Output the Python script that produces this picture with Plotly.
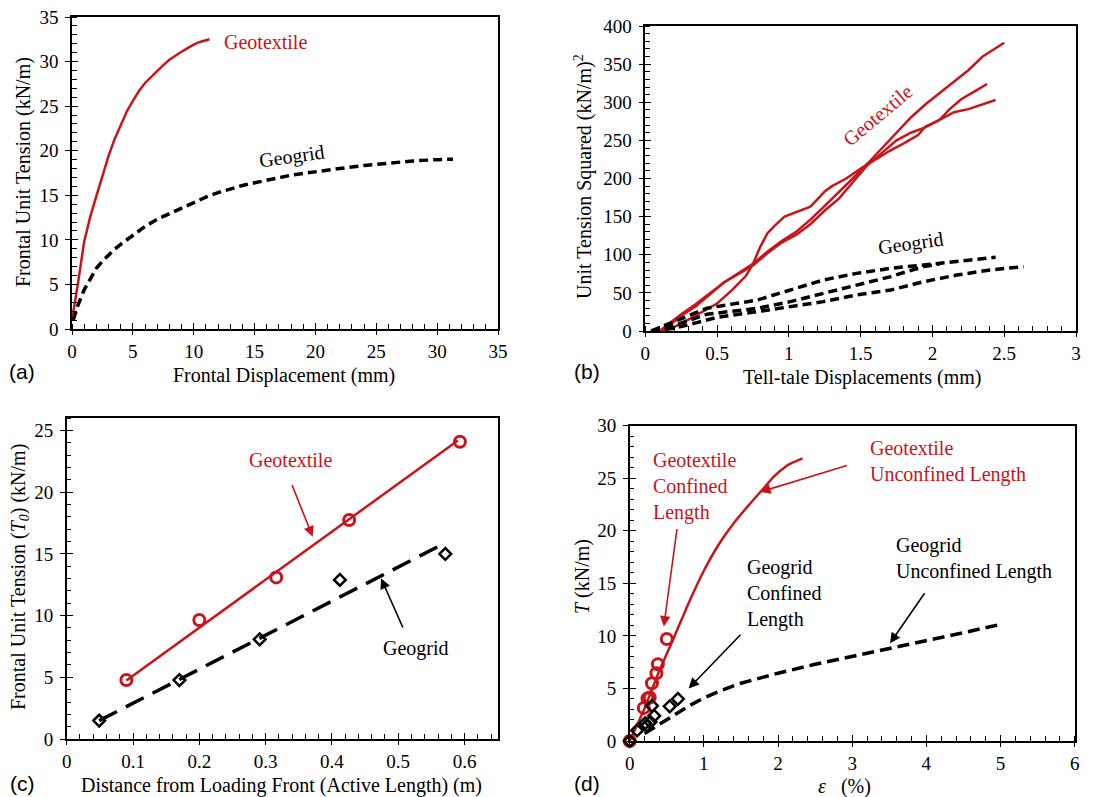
import plotly.graph_objects as go

# ---------------- data ----------------
# (a) frontal unit tension vs frontal displacement
a_gt_x = [0, 0.25, 0.5, 1.0, 1.5, 2.0, 2.5, 3.0, 3.5, 4.0, 4.5, 5.0, 5.5, 6.0, 6.5, 7.0, 7.5, 8.0, 8.5, 9.0, 9.5, 10.0, 10.5, 11.0, 11.3]
a_gt_y = [1.0, 3.0, 5.2, 9.8, 12.6, 14.9, 17.2, 19.4, 21.3, 22.9, 24.4, 25.6, 26.7, 27.6, 28.3, 29.0, 29.6, 30.2, 30.7, 31.1, 31.5, 31.9, 32.2, 32.4, 32.5]
a_gg_x = [0.1, 0.5, 1, 1.5, 2, 2.5, 3, 3.5, 4, 5, 6, 7, 8, 9, 10, 11, 12, 13, 14, 15, 16, 17, 18, 19, 20, 22, 24, 26, 28, 30, 31.3]
a_gg_y = [1.0, 2.7, 4.4, 5.7, 6.8, 7.6, 8.3, 8.95, 9.5, 10.5, 11.5, 12.3, 12.95, 13.6, 14.2, 14.8, 15.3, 15.75, 16.1, 16.4, 16.7, 17.0, 17.25, 17.45, 17.65, 18.0, 18.35, 18.6, 18.85, 19.0, 19.05]

# (b) unit tension squared vs tell-tale displacement (three tests each)
b_gt1_x = [0.1, 0.17, 0.25, 0.35, 0.45, 0.55, 0.65, 0.75, 0.85, 0.95, 1.05, 1.15, 1.25, 1.35, 1.45, 1.55, 1.65, 1.75, 1.85, 1.95, 2.05, 2.15, 2.25, 2.35, 2.45, 2.5]
b_gt1_y = [0, 8, 20, 32, 48, 64, 76, 88, 104, 118, 130, 146, 164, 182, 201, 220, 240, 260, 280, 297, 312, 326, 342, 360, 372, 378]
b_gt2_x = [0.12, 0.2, 0.3, 0.4, 0.5, 0.6, 0.7, 0.75, 0.8, 0.85, 0.9, 0.97, 1.05, 1.15, 1.2, 1.25, 1.3, 1.4, 1.5, 1.6, 1.7, 1.8, 1.9, 1.95, 2.05, 2.12, 2.2, 2.3, 2.38]
b_gt2_y = [0, 5, 15, 25, 36, 53, 72, 88, 110, 128, 138, 150, 156, 163, 173, 183, 190, 200, 213, 225, 236, 246, 257, 268, 277, 291, 304, 315, 324]
b_gt3_x = [0.1, 0.17, 0.25, 0.35, 0.45, 0.55, 0.65, 0.75, 0.85, 0.95, 1.05, 1.15, 1.25, 1.35, 1.45, 1.55, 1.65, 1.75, 1.85, 1.95, 2.05, 2.15, 2.25, 2.35, 2.44]
b_gt3_y = [0, 10, 22, 35, 50, 64, 75, 86, 102, 116, 126, 140, 158, 174, 196, 218, 234, 250, 260, 267, 277, 287, 291, 297, 303]
b_gg1_x = [0.04, 0.2, 0.43, 0.78, 1.01, 1.24, 1.47, 1.71, 1.94, 2.17, 2.44]
b_gg1_y = [0, 12, 30, 40.6, 53.8, 66.9, 75.6, 82.2, 86.6, 91.0, 96.6]
b_gg2_x = [0.04, 0.2, 0.43, 0.78, 1.01, 1.24, 1.47, 1.71, 1.82, 1.94, 2.05]
b_gg2_y = [0, 7, 22, 29.7, 38.5, 49.4, 60.3, 71.3, 77.8, 84.4, 88]
b_gg3_x = [0.04, 0.2, 0.36, 0.5, 0.78, 1.01, 1.24, 1.47, 1.71, 1.94, 2.17, 2.40, 2.635]
b_gg3_y = [0, 3.5, 11, 18, 25.4, 31.9, 38.5, 47.2, 53.8, 64.7, 73.4, 80.0, 84.4]

# (c) frontal unit tension vs active length
c_gt_x = [0.09, 0.2, 0.316, 0.426, 0.593]
c_gt_y = [4.78, 9.65, 13.1, 17.76, 24.1]
c_gt_fit_x = [0.09, 0.59]
c_gt_fit_y = [4.75, 24.2]
c_gg_x = [0.049, 0.17, 0.291, 0.412, 0.571]
c_gg_y = [1.49, 4.78, 8.08, 12.9, 15.0]
c_gg_fit_x = [0.049, 0.571]
c_gg_fit_y = [1.49, 15.9]

# (d) T vs strain
d_gt_unc_x = [0, 0.2, 0.4, 0.6, 0.8, 1.0, 1.2, 1.4, 1.6, 1.8, 1.95, 2.1, 2.2, 2.33]
d_gt_unc_y = [0, 3.1, 6.7, 9.9, 13.2, 16.2, 18.7, 20.7, 22.4, 24.0, 25.2, 26.1, 26.5, 26.9]
d_gt_con_x = [0, 0.19, 0.24, 0.27, 0.3, 0.36, 0.38, 0.5]
d_gt_con_y = [0, 3.15, 4.05, 4.15, 5.5, 6.45, 7.3, 9.7]
d_gg_con_x = [0, 0.1, 0.21, 0.23, 0.28, 0.3, 0.33, 0.54, 0.65]
d_gg_con_y = [0, 1.0, 1.7, 1.45, 1.8, 3.35, 2.4, 3.3, 4.0]
d_gg_unc_x = [0.2, 0.4, 0.6, 0.8, 1.0, 1.25, 1.5, 1.75, 2.0, 2.5, 3.0, 3.5, 4.0, 4.5, 5.0]
d_gg_unc_y = [0.7, 1.6, 2.5, 3.35, 4.1, 4.85, 5.5, 6.0, 6.45, 7.3, 8.05, 8.75, 9.5, 10.3, 11.1]

RED = "#c8141a"
SERIF = "Liberation Serif"
SANS = "Liberation Sans"
W, H = 1117, 797

fig = go.Figure()

def px(v):
    return v / W

def py(v):
    return 1 - v / H

# domains (pixels -> paper)
doms = {
    1: ([72, 498], [17, 329]),
    2: ([645.3, 1076], [26, 331]),
    3: ([66.7, 497.7], [418.3, 739]),
    4: ([629.7, 1074.7], [425.7, 741]),
}
ranges = {
    1: ([0, 35], [0, 35], 5, 1, 5, 1),
    2: ([0, 3], [0, 400], 0.5, 0.1, 50, 10),
    3: ([0, 0.65], [0, 26], 0.1, 0.02, 5, 1),
    4: ([0, 6], [0, 30], 1, 0.2, 5, 1),
}

tickfont = dict(family=SERIF, size=19, color="black")
layout_axes = {}
for i in range(1, 5):
    (x0, x1), (yt, yb) = doms[i]
    xr, yr, xd, xmd, yd, ymd = ranges[i]
    xdom = [px(x0), px(x1)]
    ydom = [py(yb), py(yt)]
    sfx = "" if i == 1 else str(i)
    layout_axes["xaxis" + sfx] = dict(
        domain=xdom, range=xr, anchor="y" + sfx, dtick=xd, tick0=0, automargin=False,
        showgrid=False, zeroline=False, showline=True, linecolor="black", linewidth=1.5,
        mirror=True, ticks="outside", ticklen=4, tickwidth=1.3, tickcolor="black",
        tickfont=tickfont,
        minor=dict(ticks="inside", ticklen=5, tickwidth=1.2, tickcolor="black", dtick=xmd, tick0=0, showgrid=False),
    )
    layout_axes["yaxis" + sfx] = dict(
        domain=ydom, range=yr, anchor="x" + sfx, dtick=yd, tick0=0, automargin=False,
        showgrid=False, zeroline=False, showline=True, linecolor="black", linewidth=1.5,
        mirror=True, ticks="outside", ticklen=5, tickwidth=1.3, tickcolor="black",
        tickfont=tickfont, ticklabelstandoff=3,
        minor=dict(ticks="inside", ticklen=5, tickwidth=1.2, tickcolor="black", dtick=ymd, tick0=0, showgrid=False),
    )
    # overlay axes for the inner half of the major ticks
    j = i + 4
    layout_axes["xaxis%d" % j] = dict(
        overlaying="x" + sfx, anchor="y" + sfx, range=xr, dtick=xd, tick0=0, automargin=False,
        showgrid=False, zeroline=False, showline=False, ticks="inside", ticklen=6,
        tickwidth=1.3, tickcolor="black", showticklabels=False,
    )
    layout_axes["yaxis%d" % j] = dict(
        overlaying="y" + sfx, anchor="x" + sfx, range=yr, dtick=yd, tick0=0, automargin=False,
        showgrid=False, zeroline=False, showline=False, ticks="inside", ticklen=6,
        tickwidth=1.3, tickcolor="black", showticklabels=False,
    )
    fig.add_trace(go.Scatter(x=[None], y=[None], xaxis="x%d" % j, yaxis="y%d" % j,
                             showlegend=False, hoverinfo="skip"))

def ax(i):
    s = "" if i == 1 else str(i)
    return "x" + s, "y" + s

# ---- (a)
xa, ya = ax(1)
fig.add_trace(go.Scatter(x=a_gt_x, y=a_gt_y, mode="lines", line=dict(color=RED, width=2.5),
                         xaxis=xa, yaxis=ya, showlegend=False))
fig.add_trace(go.Scatter(x=a_gg_x, y=a_gg_y, mode="lines", line=dict(color="black", width=3.5, dash="9px,5px"),
                         xaxis=xa, yaxis=ya, showlegend=False))

# ---- (b)
xb, yb = ax(2)
for xs, ys in [(b_gt1_x, b_gt1_y), (b_gt2_x, b_gt2_y), (b_gt3_x, b_gt3_y)]:
    fig.add_trace(go.Scatter(x=xs, y=ys, mode="lines", line=dict(color=RED, width=2.5),
                             xaxis=xb, yaxis=yb, showlegend=False))
for xs, ys in [(b_gg1_x, b_gg1_y), (b_gg2_x, b_gg2_y), (b_gg3_x, b_gg3_y)]:
    fig.add_trace(go.Scatter(x=xs, y=ys, mode="lines", line=dict(color="black", width=3.5, dash="9px,5px"),
                             xaxis=xb, yaxis=yb, showlegend=False))

# ---- (c)
xc, yc = ax(3)
fig.add_trace(go.Scatter(x=c_gt_fit_x, y=c_gt_fit_y, mode="lines", line=dict(color=RED, width=2.5),
                         xaxis=xc, yaxis=yc, showlegend=False))
fig.add_trace(go.Scatter(x=c_gg_fit_x, y=c_gg_fit_y, mode="lines", line=dict(color="black", width=3.5, dash="20px,10px"),
                         xaxis=xc, yaxis=yc, showlegend=False))
fig.add_trace(go.Scatter(x=c_gt_x, y=c_gt_y, mode="markers",
                         marker=dict(symbol="circle-open", size=11, color=RED, line=dict(width=3, color=RED)),
                         xaxis=xc, yaxis=yc, showlegend=False, cliponaxis=False))
fig.add_trace(go.Scatter(x=c_gg_x, y=c_gg_y, mode="markers",
                         marker=dict(symbol="diamond-open", size=9, color="black", line=dict(width=2.5, color="black")),
                         xaxis=xc, yaxis=yc, showlegend=False, cliponaxis=False))

# ---- (d)
xd_, yd_ = ax(4)
fig.add_trace(go.Scatter(x=d_gt_unc_x, y=d_gt_unc_y, mode="lines", line=dict(color=RED, width=2.5, shape="spline", smoothing=0.6),
                         xaxis=xd_, yaxis=yd_, showlegend=False))
fig.add_trace(go.Scatter(x=d_gg_unc_x, y=d_gg_unc_y, mode="lines", line=dict(color="black", width=3.5, dash="12px,6px"),
                         xaxis=xd_, yaxis=yd_, showlegend=False))
fig.add_trace(go.Scatter(x=d_gt_con_x, y=d_gt_con_y, mode="markers",
                         marker=dict(symbol="circle-open", size=11, color=RED, line=dict(width=3, color=RED)),
                         xaxis=xd_, yaxis=yd_, showlegend=False, cliponaxis=False))
fig.add_trace(go.Scatter(x=d_gg_con_x, y=d_gg_con_y, mode="markers",
                         marker=dict(symbol="diamond-open", size=9, color="black", line=dict(width=2.5, color="black")),
                         xaxis=xd_, yaxis=yd_, showlegend=False, cliponaxis=False))

ann = []
tf = dict(family=SERIF, size=20, color="black")
rf = dict(family=SERIF, size=20, color=RED)

def paper_text(text, x, y, font, angle=0):
    ann.append(dict(text=text, x=px(x), y=py(y), xref="paper", yref="paper", showarrow=False,
                    xanchor="center", yanchor="middle", textangle=angle, font=font))

# axis titles
paper_text("Frontal Displacement (mm)", 284, 375, tf)
paper_text("Frontal Unit Tension (kN/m)", 24, 172, tf, angle=-90)
paper_text("Tell-tale Displacements (mm)", 862, 377, tf)
paper_text("Unit Tension Squared (kN/m)<sup>2</sup>", 584, 177, tf, angle=-90)
paper_text("Distance from Loading Front (Active Length) (m)", 281, 785, tf)
paper_text("Frontal Unit Tension (<i>T<sub>0</sub></i>) (kN/m)", 19, 577, tf, angle=-90)
paper_text("<i>ε</i>   (%)", 844, 786, tf)
paper_text("<i>T</i> (kN/m)", 582, 577, tf, angle=-90)

# panel labels
pf = dict(family=SANS, size=21, color="black")
paper_text("(a)", 22, 371, pf)
paper_text("(b)", 587, 371, pf)
paper_text("(c)", 22, 783, pf)
paper_text("(d)", 587, 783, pf)

# in-plot labels
ann.append(dict(text="Geotextile", x=12.3, y=32.2, xref=xa, yref=ya, showarrow=False, xanchor="left", font=rf))
ann.append(dict(text="Geogrid", x=18.1, y=19.3, xref=xa, yref=ya, showarrow=False, textangle=-8, font=tf))
ann.append(dict(text="Geotextile", x=1.62, y=283, xref=xb, yref=yb, showarrow=False, textangle=-40, font=rf))
ann.append(dict(text="Geogrid", x=1.85, y=115, xref=xb, yref=yb, showarrow=False, textangle=-8, font=tf))
ann.append(dict(text="Geotextile", x=0.338, y=22.6, xref=xc, yref=yc, showarrow=False, font=rf))
ann.append(dict(text="Geogrid", x=0.527, y=7.35, xref=xc, yref=yc, showarrow=False, font=tf))

def arrow(x, y, axx, ayy, xr, yr, color):
    ann.append(dict(text="", x=x, y=y, ax=axx, ay=ayy, xref=xr, yref=yr, axref=xr, ayref=yr,
                    showarrow=True, arrowhead=2, arrowsize=1.3, arrowwidth=1.6, arrowcolor=color))

arrow(0.371, 16.4, 0.339, 20.7, xc, yc, RED)
arrow(0.474, 13.03, 0.508, 8.92, xc, yc, "black")

ann.append(dict(text="Geotextile<br>Confined<br>Length", x=0.287, y=24.2, xref=xd_, yref=yd_, showarrow=False,
                xanchor="left", yanchor="middle", align="left", font=rf))
ann.append(dict(text="Geotextile<br>Unconfined Length", x=3.21, y=26.6, xref=xd_, yref=yd_, showarrow=False,
                xanchor="left", yanchor="middle", align="left", font=rf))
ann.append(dict(text="Geogrid<br>Confined<br>Length", x=1.56, y=14.05, xref=xd_, yref=yd_, showarrow=False,
                xanchor="left", yanchor="middle", align="left", font=tf))
ann.append(dict(text="Geogrid<br>Unconfined Length", x=3.56, y=17.4, xref=xd_, yref=yd_, showarrow=False,
                xanchor="left", yanchor="middle", align="left", font=tf))
arrow(0.46, 10.9, 0.64, 20.3, xd_, yd_, RED)
arrow(1.76, 23.7, 2.95, 26.26, xd_, yd_, RED)
arrow(0.795, 5.0, 1.514, 10.25, xd_, yd_, "black")
arrow(3.51, 9.3, 3.99, 14.2, xd_, yd_, "black")

fig.update_layout(
    width=W, height=H, margin=dict(l=0, r=0, t=0, b=0, autoexpand=False),
    paper_bgcolor="white", plot_bgcolor="white",
    annotations=ann, showlegend=False,
    **layout_axes,
)

fig.write_html("out.html")
